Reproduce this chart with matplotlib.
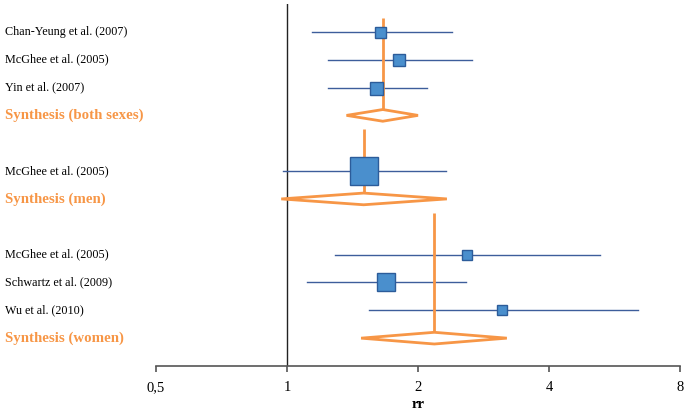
import matplotlib.pyplot as plt
from matplotlib.patches import Polygon
from matplotlib.transforms import blended_transform_factory

# studies: label, row, rr, lower, upper, box size (px)
study_labels = ['Chan-Yeung et al. (2007)', 'McGhee et al. (2005)', 'Yin et al. (2007)',
                'McGhee et al. (2005)',
                'McGhee et al. (2005)', 'Schwartz et al. (2009)', 'Wu et al. (2010)']
study_rows = [0, 1, 2, 5, 8, 9, 10]
study_rr = [1.64, 1.81, 1.60, 1.50, 2.59, 1.69, 3.12]
study_lo = [1.14, 1.24, 1.24, 0.98, 1.29, 1.11, 1.54]
study_hi = [2.39, 2.66, 2.10, 2.32, 5.24, 2.58, 6.40]
study_box = [11, 12, 13, 28, 9.5, 18, 9.5]

synth_labels = ['Synthesis (both sexes)', 'Synthesis (men)', 'Synthesis (women)']
synth_rows = [3, 6, 11]
synth_rr = [1.66, 1.50, 2.18]
synth_lo = [1.37, 0.97, 1.48]
synth_hi = [2.00, 2.33, 3.20]
synth_top = [-0.5, 3.5, 6.5]

xticks = [0.5, 1, 2, 4, 8]
xticklabels = ['0,5', '1', '2', '4', '8']

orange = '#f79646'
box_fc = '#4a8fcd'
box_ec = '#2c5c9a'
ci_col = '#3d5d9b'

plt.rcParams['font.family'] = ['Liberation Serif', 'DejaVu Serif']

fig = plt.figure(figsize=(6.85, 4.11), dpi=100)
ax = fig.add_axes([156/685, 45/411, 524/685, 362/411])
ax.set_xscale('log', base=2)
ax.set_xlim(0.5, 8)
ax.set_ylim(12.0, -1.0)

ax.axvline(1, color='#222222', lw=1.0, zorder=1)

for r, rr, lo, hi, s in zip(study_rows, study_rr, study_lo, study_hi, study_box):
    ax.plot([lo, hi], [r, r], color=ci_col, lw=1.0, zorder=2)
    ax.plot(rr, r, marker='s', ms=s*0.72, mfc=box_fc, mec=box_ec, mew=1.0, zorder=4)

h = 0.21
for r, rr, lo, hi, top in zip(synth_rows, synth_rr, synth_lo, synth_hi, synth_top):
    ax.plot([rr, rr], [top, r - h], color=orange, lw=2.0, zorder=3, solid_capstyle='butt')
    dia = Polygon([[lo, r], [rr, r - h], [hi, r], [rr, r + h]], closed=True,
                  fc='white', ec=orange, lw=2.0, zorder=3)
    ax.add_patch(dia)

trans = blended_transform_factory(fig.transFigure, ax.transData)
for lab, r in zip(study_labels, study_rows):
    ax.text(5/685, r, lab, transform=trans, fontsize=8.7,
            va='center', ha='left', color='black')
for lab, r in zip(synth_labels, synth_rows):
    ax.text(5/685, r, lab, transform=trans, fontsize=10.7,
            fontweight='bold', va='center', ha='left', color=orange)

for sp in ['top', 'right', 'left']:
    ax.spines[sp].set_visible(False)
ax.spines['bottom'].set_color('#555555')
ax.spines['bottom'].set_linewidth(1.2)
ax.set_yticks([])
ax.set_xticks(xticks)
ax.set_xticklabels(xticklabels, fontsize=10.5)
ax.minorticks_off()
ax.tick_params(axis='x', direction='out', length=4, width=1.2, color='#555555', pad=7)
ax.set_xlabel('rr', fontsize=10.5, fontweight='bold', va='center')
ax.xaxis.set_label_coords(0.5, -0.107)

fig.savefig('out.png', dpi=100)
